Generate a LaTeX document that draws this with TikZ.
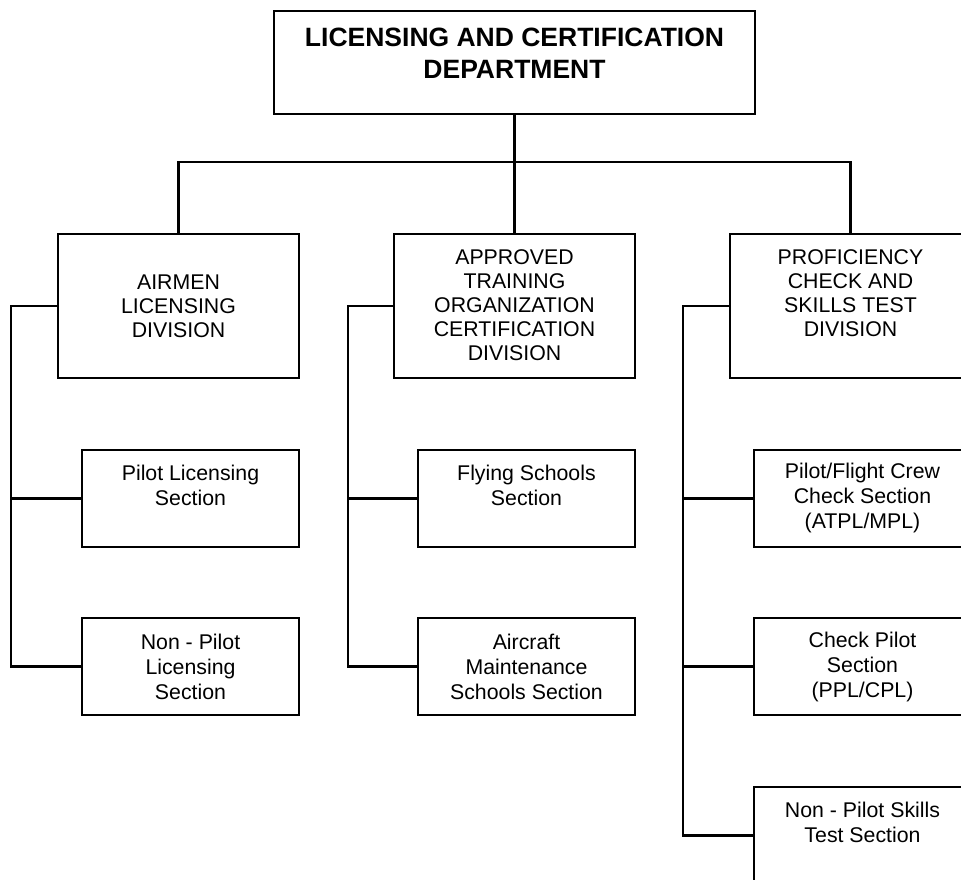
\documentclass[tikz,border=0pt]{standalone}
\usepackage{fontspec}
\setmainfont{Liberation Sans}
\begin{document}
\begin{tikzpicture}[x=1pt,y=-1pt,
  topbox/.style={draw,line width=1.6pt,inner sep=0pt,minimum width=481pt,minimum height=103pt},
  divbox/.style={draw,line width=1.6pt,inner sep=0pt,minimum width=241pt,minimum height=144pt},
  secbox/.style={draw,line width=1.6pt,inner sep=0pt,minimum width=217pt,minimum height=97pt},
  titletext/.style={align=center,inner sep=0pt,font=\fontsize{26.5}{32}\selectfont\bfseries},
  divtext/.style={align=center,inner sep=0pt,font=\fontsize{21.3}{24}\selectfont},
  sectext/.style={align=center,inner sep=0pt,font=\fontsize{21.3}{25}\selectfont},
  link/.style={line width=2.2pt}]
\useasboundingbox (0,0) rectangle (961,879);
\clip (0,0) rectangle (961,879);

% department
\node[topbox] (dept) at (514.5,62.5) {};
\node[titletext] (deptT) at (514.5,53) {LICENSING AND CERTIFICATION\\DEPARTMENT};

% divisions
\node[divbox] (d1) at (178.5,306) {};
\node[divbox] (d2) at (514.5,306) {};
\node[divbox] (d3) at (850.5,306) {};
\node[divtext] (d1T) at (178.5,306) {AIRMEN\\LICENSING\\DIVISION};
\node[divtext] (d2T) at (514.5,305.5) {APPROVED\\TRAINING\\ORGANIZATION\\CERTIFICATION\\DIVISION};
\node[divtext] (d3T) at (850.5,293.5) {PROFICIENCY\\CHECK AND\\SKILLS TEST\\DIVISION};

% sections, airmen licensing
\node[secbox] (a1) at (190.5,498.5) {};
\node[secbox] (a2) at (190.5,666.5) {};
\node[sectext] (a1T) at (190.5,485.5) {Pilot Licensing\\Section};
\node[sectext] (a2T) at (190.5,666.5) {Non - Pilot\\Licensing\\Section};

% sections, training organization certification
\node[secbox] (b1) at (526.5,498.5) {};
\node[secbox] (b2) at (526.5,666.5) {};
\node[sectext] (b1T) at (526.5,485.5) {Flying Schools\\Section};
\node[sectext] (b2T) at (526.5,666.5) {Aircraft\\Maintenance\\Schools Section};

% sections, proficiency check and skills test
\node[secbox] (c1) at (862.5,498.5) {};
\node[secbox] (c2) at (862.5,666.5) {};
\node[secbox] (c3) at (862.5,835.5) {};
\node[sectext] (c1T) at (862.5,498) {Pilot/Flight Crew\\Check Section\\(ATPL/MPL)};
\node[sectext] (c2T) at (862.5,666.5) {Check Pilot\\Section\\(PPL/CPL)};
\node[sectext] (c3T) at (862.5,822.5) {Non - Pilot Skills\\Test Section};

% department to divisions
\coordinate (bus) at (514.5,162);
\draw[link] (dept.south) -- (bus);
\draw[link] (d1.north) |- (bus) -| (d3.north);
\draw[link] (bus) -- (d2.north);

% division spines
\coordinate (sa) at (11,306);
\coordinate (sb) at (348,306);
\coordinate (sc) at (683,306);
\draw[link] (d1.west) -- (sa) |- (a2.west);
\draw[link] (sa) |- (a1.west);
\draw[link] (d2.west) -- (sb) |- (b2.west);
\draw[link] (sb) |- (b1.west);
\draw[link] (d3.west) -- (sc) |- (c3.west);
\draw[link] (sc) |- (c1.west);
\draw[link] (sc) |- (c2.west);
\end{tikzpicture}
\end{document}
